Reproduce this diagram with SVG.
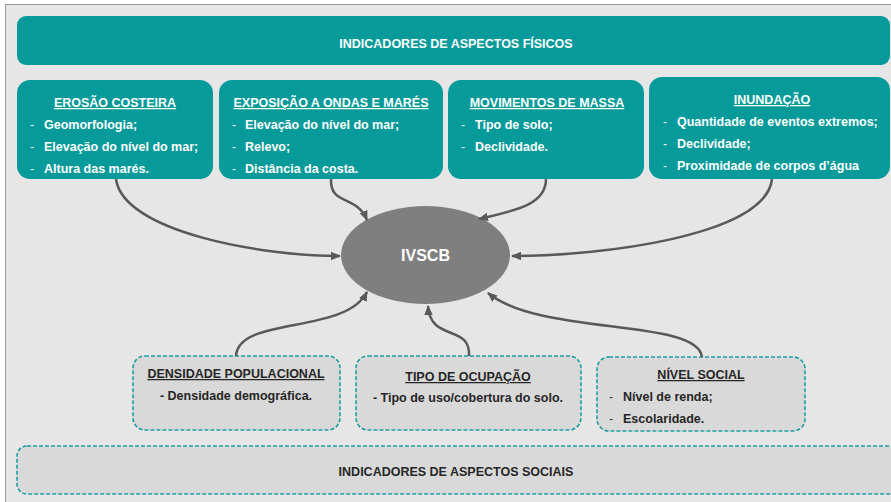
<svg xmlns="http://www.w3.org/2000/svg" width="891" height="502" viewBox="0 0 891 502">
<defs>
<style>
text{font-family:"Liberation Sans",Arial,sans-serif;font-weight:bold;}
.phys{fill:#069a9a;}
.soc{fill:#d9d9d9;stroke:#1f9fa3;stroke-width:1.6;stroke-dasharray:4 2;}
.wt{fill:#ffffff;font-size:12.5px;}
.dk{fill:#262626;font-size:12.5px;}
.ttl{text-decoration:underline;text-anchor:middle;}
.ctr{text-anchor:middle;}
.dash{fill:#e8f4f4;font-weight:normal;}
.dashd{fill:#404040;font-weight:normal;}
.conn{fill:none;stroke:#595959;stroke-width:2.5;marker-end:url(#arr);}
</style>
<marker id="arr" markerUnits="userSpaceOnUse" markerWidth="10" markerHeight="10" viewBox="0 0 10 10" refX="9" refY="5" orient="auto">
<path d="M0,0.8 L10,5 L0,9.2 Z" fill="#595959"/>
</marker>
</defs>
<rect x="0" y="0" width="891" height="502" fill="#ffffff"/>
<rect x="5.5" y="4.5" width="890" height="500" fill="#e6e6e6" stroke="#9a9a9a" stroke-width="1"/>

<g id="fisicos">
<rect class="phys" x="17" y="16" width="873" height="49" rx="9"/>
<text class="wt ctr" x="456" y="48" font-size="12">INDICADORES DE ASPECTOS FÍSICOS</text>
</g>

<g id="erosao">
<rect class="phys" x="17" y="80" width="196" height="99" rx="13"/>
<text class="wt ttl" x="115" y="107">EROSÃO COSTEIRA</text>
<text class="wt dash" x="30" y="129">-</text><text class="wt" x="44" y="129">Geomorfologia;</text>
<text class="wt dash" x="30" y="151">-</text><text class="wt" x="44" y="151">Elevação do nível do mar;</text>
<text class="wt dash" x="30" y="173">-</text><text class="wt" x="44" y="173">Altura das marés.</text>
</g>

<g id="exposicao">
<rect class="phys" x="219" y="80" width="224" height="99" rx="13"/>
<text class="wt ttl" x="331" y="107">EXPOSIÇÃO A ONDAS E MARÉS</text>
<text class="wt dash" x="232" y="129">-</text><text class="wt" x="245" y="129">Elevação do nível do mar;</text>
<text class="wt dash" x="232" y="151">-</text><text class="wt" x="245" y="151">Relevo;</text>
<text class="wt dash" x="232" y="173">-</text><text class="wt" x="245" y="173">Distância da costa.</text>
</g>

<g id="movimentos">
<rect class="phys" x="448" y="80" width="196" height="99" rx="13"/>
<text class="wt ttl" x="547" y="107">MOVIMENTOS DE MASSA</text>
<text class="wt dash" x="461" y="129">-</text><text class="wt" x="475" y="129">Tipo de solo;</text>
<text class="wt dash" x="461" y="151">-</text><text class="wt" x="475" y="151">Declividade.</text>
</g>

<g id="inundacao">
<rect class="phys" x="649" y="77" width="241" height="102" rx="13"/>
<text class="wt ttl" x="772" y="104">INUNDAÇÃO</text>
<text class="wt dash" x="663" y="126">-</text><text class="wt" x="677" y="126">Quantidade de eventos extremos;</text>
<text class="wt dash" x="663" y="148">-</text><text class="wt" x="677" y="148">Declividade;</text>
<text class="wt dash" x="663" y="170">-</text><text class="wt" x="677" y="170">Proximidade de corpos d’água</text>
</g>

<g id="ivscb">
<ellipse cx="425.5" cy="255" rx="84.5" ry="49" fill="#7f7f7f"/>
<text class="ctr" x="425.5" y="261" font-size="16" fill="#ffffff">IVSCB</text>
</g>

<g id="densidade">
<rect class="soc" x="133" y="356" width="207" height="74" rx="12"/>
<text class="dk ttl" x="236" y="378">DENSIDADE POPULACIONAL</text>
<text class="dk ctr" x="236" y="400">- Densidade demográfica.</text>
</g>

<g id="ocupacao">
<rect class="soc" x="356" y="356" width="225" height="74" rx="12"/>
<text class="dk ttl" x="468" y="381">TIPO DE OCUPAÇÃO</text>
<text class="dk ctr" x="468" y="402">- Tipo de uso/cobertura do solo.</text>
</g>

<g id="nivel">
<rect class="soc" x="597" y="357" width="208" height="74" rx="12"/>
<text class="dk ttl" x="701" y="379">NÍVEL SOCIAL</text>
<text class="dk dashd" x="609" y="401">-</text><text class="dk" x="623" y="401">Nível de renda;</text>
<text class="dk dashd" x="609" y="423">-</text><text class="dk" x="623" y="423">Escolaridade.</text>
</g>

<g id="sociais">
<rect class="soc" x="17" y="446" width="890" height="48" rx="10"/>
<text class="dk ctr" x="456" y="476" font-size="12">INDICADORES DE ASPECTOS SOCIAIS</text>
</g>

<g id="connectors">
<path class="conn" d="M116,179 C123,232 262,256 340,256"/>
<path class="conn" d="M331,179 C330,206 356,194 367,220"/>
<path class="conn" d="M546,179 C546,206 512,211 479,219"/>
<path class="conn" d="M772,179 C766,236 600,256 512,256"/>
<path class="conn" d="M236,356 C238,316 345,335 367,292"/>
<path class="conn" d="M469,356 C471,324 430,342 428,306"/>
<path class="conn" d="M702,357 C698,318 540,336 488,293"/>
</g>
</svg>
